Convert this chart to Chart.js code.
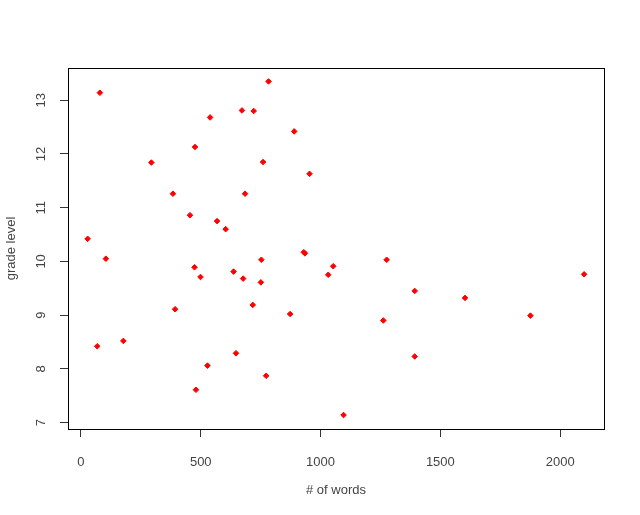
<!DOCTYPE html>
<html>
<head>
<meta charset="utf-8">
<script src="https://cdn.jsdelivr.net/npm/chart.js@4"></script>
<style>
  body { margin: 0; background: #fff; }
  canvas { display: block; }
</style>
</head>
<body>
<canvas id="scatter" width="640" height="515"></canvas>
<script>
// word count of each text and its grade level
const words = [79, 783, 672, 721, 539, 890, 476, 294, 760, 954, 384, 685, 455, 568, 604,
  28, 930, 935, 104, 753, 474, 499, 637, 677, 751, 1032, 1053, 393, 717, 873,
  68, 177, 647, 528, 773, 480, 1276, 2100, 1393, 1603, 1876, 1262, 1393, 1096];
const grades = [13.14, 13.35, 12.81, 12.80, 12.68, 12.42, 12.13, 11.84, 11.85, 11.63, 11.26, 11.26, 10.86, 10.75, 10.60,
  10.42, 10.17, 10.15, 10.05, 10.03, 9.89, 9.71, 9.81, 9.68, 9.61, 9.75, 9.91, 9.11, 9.19, 9.02,
  8.42, 8.52, 8.29, 8.06, 7.87, 7.61, 10.03, 9.76, 9.45, 9.32, 8.99, 8.90, 8.23, 7.14];
const xTicks = [0, 500, 1000, 1500, 2000];
const yTicks = [7, 8, 9, 10, 11, 12, 13];

const font = { family: "Liberation Sans, Arial, sans-serif", size: 13 };
const textColor = "#444";

const points = words.map((w, i) => ({ x: w, y: grades[i] }));

// R style box round the plot area
const boxPlugin = {
  id: "box",
  afterDraw(chart) {
    const a = chart.chartArea;
    const ctx = chart.ctx;
    ctx.save();
    ctx.strokeStyle = "#000";
    ctx.lineWidth = 1;
    ctx.strokeRect(Math.round(a.left) + 0.5, Math.round(a.top) + 0.5,
      Math.round(a.right - a.left), Math.round(a.bottom - a.top));
    ctx.restore();
  },
};

new Chart(document.getElementById("scatter").getContext("2d"), {
  type: "scatter",
  data: {
    datasets: [
      {
        data: points,
        pointStyle: "rectRot",
        pointRadius: 2.8,
        borderWidth: 1,
        backgroundColor: "#ff0000",
        borderColor: "#ff0000",
      },
    ],
  },
  options: {
    responsive: false,
    animation: false,
    devicePixelRatio: 1,
    layout: { padding: { top: 68, right: 36, left: 0, bottom: 0 } },
    plugins: { legend: { display: false }, tooltip: { enabled: false } },
    scales: {
      x: {
        type: "linear",
        min: -54,
        max: 2183,
        afterBuildTicks: (scale) => { scale.ticks = xTicks.map((v) => ({ value: v })); },
        afterFit: (scale) => { scale.height = 86; },
        grid: { drawOnChartArea: false, tickLength: 8, color: "#333" },
        border: { display: true, color: "#000" },
        ticks: { font: font, color: textColor, padding: 18, maxRotation: 0, callback: (v) => String(v) },
        title: { display: true, text: "# of words", font: font, color: textColor, padding: { bottom: 17 } },
      },
      y: {
        type: "linear",
        min: 6.88,
        max: 13.6,
        afterBuildTicks: (scale) => { scale.ticks = yTicks.map((v) => ({ value: v })); },
        afterFit: (scale) => { scale.width = 68; },
        grid: { drawOnChartArea: false, tickLength: 8, color: "#333" },
        border: { display: true, color: "#000" },
        ticks: { font: font, color: textColor, padding: 11, minRotation: 90, maxRotation: 90, crossAlign: "center", callback: (v) => String(v) },
        title: { display: true, text: "grade level", font: font, color: textColor, padding: { top: 4 } },
      },
    },
  },
  plugins: [boxPlugin],
});
</script>
</body>
</html>
